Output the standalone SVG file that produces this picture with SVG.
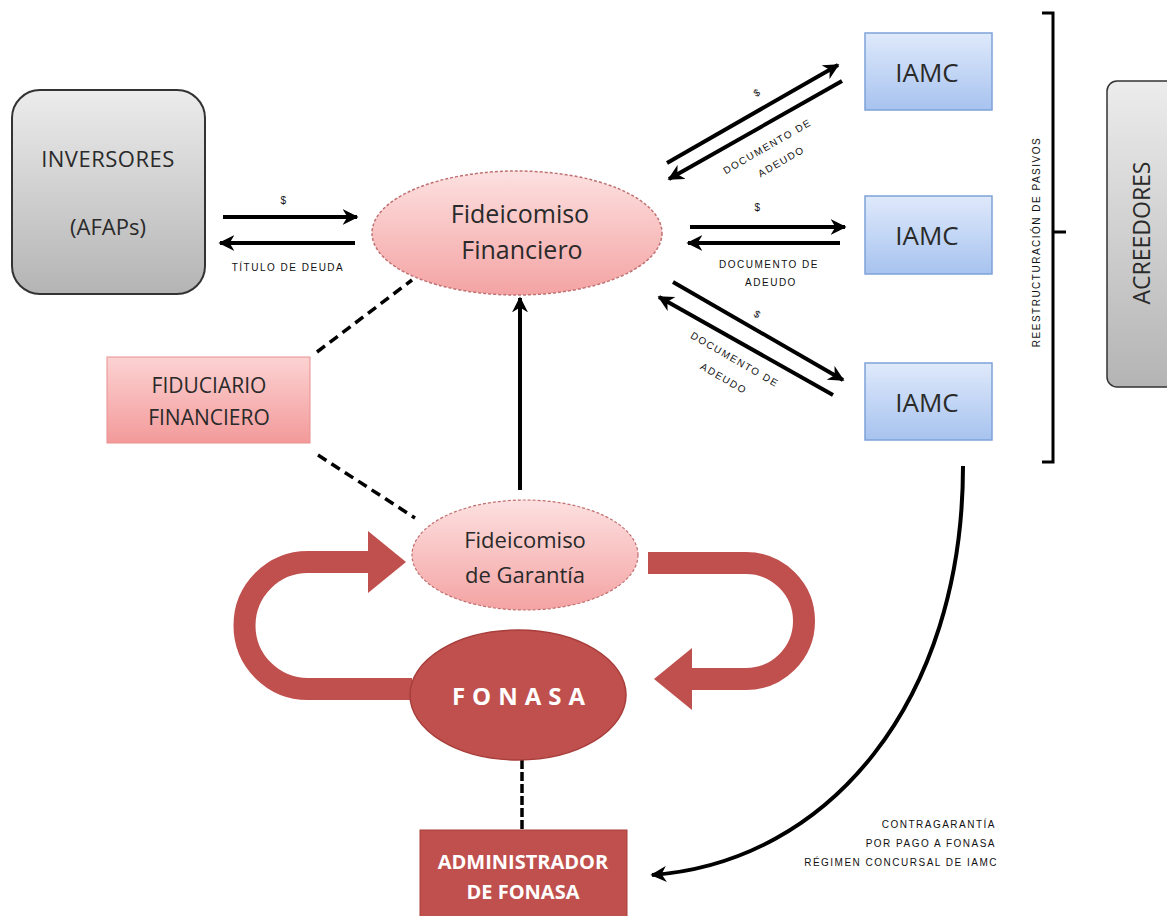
<svg xmlns="http://www.w3.org/2000/svg" width="1167" height="916" viewBox="0 0 1167 916">
<defs>
<linearGradient id="gGray" x1="0" y1="0" x2="0" y2="1"><stop offset="0" stop-color="#ececec"/><stop offset="1" stop-color="#b4b4b4"/></linearGradient>
<linearGradient id="gBlue" x1="0" y1="0" x2="0" y2="1"><stop offset="0" stop-color="#dfe9fb"/><stop offset="1" stop-color="#a7c3ef"/></linearGradient>
<linearGradient id="gPink" x1="0" y1="0" x2="0" y2="1"><stop offset="0" stop-color="#fde0e0"/><stop offset="1" stop-color="#f4a3a3"/></linearGradient>
<linearGradient id="gPink2" x1="0" y1="0" x2="0" y2="1"><stop offset="0" stop-color="#fcd2d2"/><stop offset="1" stop-color="#f39a9a"/></linearGradient>
<marker id="ah" viewBox="0 0 10 10" refX="9" refY="5" markerWidth="4" markerHeight="4" orient="auto" markerUnits="strokeWidth"><path d="M0,0 L10,5 L0,10 L3,5 z" fill="#000"/></marker>
<style>
.t{font-family:"Open Sans","Liberation Sans",sans-serif;fill:#2a2a2a;text-anchor:middle}
.s{font-family:"Liberation Sans",Arial,sans-serif;font-size:10px;letter-spacing:1.5px;fill:#111;text-anchor:middle}
.se{font-family:"Liberation Sans",Arial,sans-serif;font-size:10px;letter-spacing:1.5px;fill:#111;text-anchor:end}
.w{font-family:"Open Sans","Liberation Sans",sans-serif;fill:#fff;text-anchor:middle}
.ar{fill:none;stroke:#000;stroke-width:4;marker-end:url(#ah)}
.dash{fill:none;stroke:#000;stroke-width:3.5;stroke-dasharray:10 6}
.loop{fill:none;stroke:#c0504d;stroke-width:22}
</style>
</defs>
<rect width="1167" height="916" fill="#fff"/>

<g id="connectors">
<line class="ar" x1="223" y1="217" x2="357" y2="217"/>
<line class="ar" x1="355" y1="243" x2="220" y2="243"/>
<line class="ar" x1="667" y1="163" x2="838" y2="65"/>
<line class="ar" x1="842" y1="81" x2="669" y2="179"/>
<line class="ar" x1="690" y1="227" x2="845" y2="227"/>
<line class="ar" x1="840" y1="243" x2="688" y2="243"/>
<line class="ar" x1="673" y1="282" x2="843" y2="380"/>
<line class="ar" x1="833" y1="395" x2="659" y2="297"/>
<line class="dash" x1="317" y1="352" x2="412" y2="280"/>
<line class="dash" x1="318" y1="455" x2="415" y2="518"/>
<line class="ar" x1="520" y1="490" x2="520" y2="298"/>
<line x1="522" y1="760" x2="522" y2="830" stroke="#000" stroke-width="3.5" stroke-dasharray="9 3"/>
<path class="ar" d="M963,466 C963,700 830,862 652,875"/>
<path class="loop" d="M412,689 H308 A63.5,63.5 0 0 1 308,562 H372"/>
<polygon points="368,531 406,562 368,593" fill="#c0504d"/>
<path class="loop" d="M648,563 H746 A58,58 0 0 1 746,679 H688"/>
<polygon points="692,648 654,679 692,710" fill="#c0504d"/>
<path d="M1042,13 H1053 V462 H1042 M1053,232 H1066" fill="none" stroke="#000" stroke-width="3"/>
</g>

<g id="labels">
<text class="s" x="284" y="204" font-size="12">$</text>
<text class="s" x="288" y="271" font-size="10.5">TÍTULO DE DEUDA</text>
<g transform="translate(757,92) rotate(-30)"><text class="s" y="4" font-size="12">$</text></g>
<g transform="translate(767,146) rotate(-30)"><text class="s" y="4">DOCUMENTO DE</text></g>
<g transform="translate(781,161) rotate(-30)"><text class="s" y="4">ADEUDO</text></g>
<text class="s" x="758" y="211" font-size="12">$</text>
<text class="s" x="769" y="268">DOCUMENTO DE</text>
<text class="s" x="771" y="286">ADEUDO</text>
<g transform="translate(758,314) rotate(30)"><text class="s" y="4" font-size="12">$</text></g>
<g transform="translate(735,359) rotate(30)"><text class="s" y="4">DOCUMENTO DE</text></g>
<g transform="translate(724,378) rotate(30)"><text class="s" y="4">ADEUDO</text></g>
<g transform="translate(1036,242) rotate(-90)"><text class="s" y="4">REESTRUCTURACIÓN DE PASIVOS</text></g>
<text class="se" x="996" y="828">CONTRAGARANTÍA</text>
<text class="se" x="996" y="847">POR PAGO A FONASA</text>
<text class="se" x="998" y="866">RÉGIMEN CONCURSAL DE IAMC</text>
</g>

<g id="inversores">
<rect x="12" y="90" width="193" height="204" rx="28" fill="url(#gGray)" stroke="#333" stroke-width="2"/>
<text class="t" x="108" y="167" font-size="22" letter-spacing="0.5">INVERSORES</text>
<text class="t" x="108" y="235" font-size="22">(AFAPs)</text>
</g>

<g id="fideicomiso-financiero">
<ellipse cx="517" cy="233" rx="145" ry="62" fill="url(#gPink)" stroke="#c07070" stroke-width="1.5" stroke-dasharray="3 2"/>
<text class="t" x="520" y="223" font-size="25">Fideicomiso</text>
<text class="t" x="522" y="259" font-size="25">Financiero</text>
</g>

<g id="iamc1">
<rect x="865" y="33" width="127" height="77" fill="url(#gBlue)" stroke="#7ea3d8" stroke-width="1.5"/>
<text class="t" x="927" y="82" font-size="26">IAMC</text>
</g>
<g id="iamc2">
<rect x="865" y="196" width="127" height="78" fill="url(#gBlue)" stroke="#7ea3d8" stroke-width="1.5"/>
<text class="t" x="927" y="245" font-size="26">IAMC</text>
</g>
<g id="iamc3">
<rect x="865" y="363" width="127" height="77" fill="url(#gBlue)" stroke="#7ea3d8" stroke-width="1.5"/>
<text class="t" x="927" y="412" font-size="26">IAMC</text>
</g>

<g id="acreedores">
<rect x="1107" y="81" width="80" height="306" rx="10" fill="url(#gGray)" stroke="#333" stroke-width="1.5"/>
<text class="t" transform="translate(1150,233) rotate(-90)" font-size="23">ACREEDORES</text>
</g>

<g id="fiduciario">
<rect x="107" y="357" width="203" height="86" fill="url(#gPink2)" stroke="#e89090" stroke-width="1"/>
<text class="t" x="209" y="393" font-size="21">FIDUCIARIO</text>
<text class="t" x="209" y="425" font-size="21">FINANCIERO</text>
</g>

<g id="fideicomiso-garantia">
<ellipse cx="525" cy="555" rx="113" ry="55" fill="url(#gPink)" stroke="#c07070" stroke-width="1.2" stroke-dasharray="3 2"/>
<text class="t" x="525" y="548" font-size="22">Fideicomiso</text>
<text class="t" x="525" y="583" font-size="22">de Garantía</text>
</g>

<g id="fonasa">
<ellipse cx="518" cy="695" rx="108" ry="65" fill="#c0504d" stroke="#a83e3b" stroke-width="1.5"/>
<text class="w" x="522" y="705" font-size="24" font-weight="bold" letter-spacing="7">FONASA</text>
</g>

<g id="administrador">
<rect x="420" y="830" width="207" height="90" fill="#c0504d" stroke="#a83e3b" stroke-width="1"/>
<text class="w" x="523" y="869" font-size="20" font-weight="bold">ADMINISTRADOR</text>
<text class="w" x="523" y="899" font-size="20" font-weight="bold">DE FONASA</text>
</g>
</svg>
